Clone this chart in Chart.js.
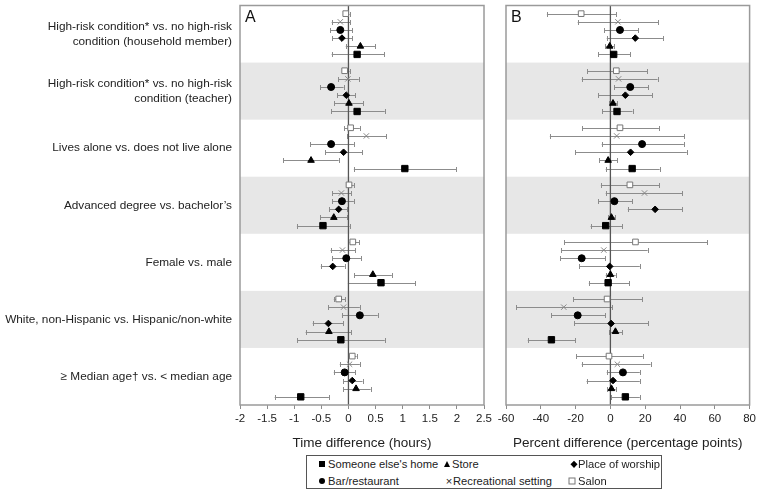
<!DOCTYPE html>
<html><head><meta charset="utf-8">
<script src="https://cdn.jsdelivr.net/npm/chart.js@4.4.0/dist/chart.umd.min.js"></script>
<style>
body{margin:0;background:#fff;width:759px;height:490px;overflow:hidden;position:relative;font-family:"Liberation Sans",Arial,sans-serif;}
#wa{position:absolute;left:0;top:0;width:495px;height:451px;}
#wb{position:absolute;left:490px;top:0;width:269px;height:451px;}
#legend{position:absolute;left:306px;top:455px;width:356px;height:34px;border:1px solid #555;box-sizing:border-box;font-size:11.2px;color:#222;}
.lt{position:absolute;white-space:nowrap;line-height:14px;transform:translateY(-50%);}
.mk{position:absolute;transform:translate(-50%,-50%);}
</style>
</head><body>
<div id="wa"><canvas id="ca"></canvas></div>
<div id="wb"><canvas id="cb"></canvas></div>
<div id="legend"></div>
<script>
// ---------- DATA ----------
const groupLabels = [
  ["High-risk condition* vs. no high-risk", "condition (household member)"],
  ["High-risk condition* vs. no high-risk", "condition (teacher)"],
  ["Lives alone vs. does not live alone"],
  ["Advanced degree vs. bachelor\u2019s"],
  ["Female vs. male"],
  ["White, non-Hispanic vs. Hispanic/non-white"],
  ["\u2265 Median age\u2020 vs. < median age"]
];
// series, top-to-bottom inside each group
const seriesNames = ["Salon", "Recreational setting", "Bar/restaurant", "Place of worship", "Store", "Someone else's home"];

// Panel A: time difference (hours) [estimate, lower, upper] per group
const timeSalon   = [[-0.05,-0.10,0.02],[-0.07,-0.11,0.02],[0.04,-0.08,0.21],[0.01,-0.04,0.10],[0.08,0.02,0.20],[-0.18,-0.27,-0.06],[0.07,0.02,0.15]];
const timeRec     = [[-0.15,-0.31,0.03],[-0.01,-0.19,0.19],[0.33,-0.02,0.70],[-0.13,-0.30,0.05],[-0.11,-0.33,0.13],[-0.09,-0.37,0.21],[0.02,-0.16,0.21]];
const timeBar     = [[-0.15,-0.34,0.07],[-0.32,-0.52,-0.09],[-0.32,-0.70,0.10],[-0.12,-0.30,0.10],[-0.04,-0.30,0.23],[0.21,-0.12,0.54],[-0.07,-0.27,0.13]];
const timeWorship = [[-0.12,-0.30,0.07],[-0.04,-0.21,0.13],[-0.09,-0.43,0.25],[-0.18,-0.35,-0.02],[-0.29,-0.51,-0.07],[-0.37,-0.66,-0.10],[0.07,-0.10,0.26]];
const timeStore   = [[0.22,-0.05,0.49],[0.01,-0.26,0.27],[-0.69,-1.20,-0.18],[-0.27,-0.52,-0.02],[0.45,0.11,0.80],[-0.36,-0.79,0.05],[0.14,-0.10,0.41]];
const timeHome    = [[0.16,-0.31,0.66],[0.16,-0.32,0.67],[1.04,0.10,1.99],[-0.47,-0.95,0.02],[0.60,-0.01,1.23],[-0.14,-0.94,0.67],[-0.88,-1.36,-0.36]];

// Panel B: percent difference (percentage points)
const pctSalon   = [[-16.8,-36.5,3.4],[3.4,-13.3,21.1],[5.5,-16.2,27.9],[11.2,-5.5,28.1],[14.4,-26.5,55.6],[-1.9,-21.5,18.4],[-0.8,-19.6,18.6]];
const pctRec     = [[4.3,-18.8,27.4],[4.7,-16.5,27.1],[3.6,-34.8,42.4],[19.6,-2.7,41.4],[-3.8,-28.3,21.4],[-26.8,-54.2,1.1],[4.0,-16.5,23.1]];
const pctBar     = [[5.5,-3.4,16.0],[11.4,2.3,21.7],[18.2,-5.0,42.2],[2.3,-7.1,12.5],[-16.5,-28.7,-3.1],[-18.8,-33.9,-3.1],[7.2,-2.1,16.9]];
const pctWorship = [[14.3,-2.1,30.2],[8.6,-7.1,24.1],[11.6,-20.2,43.9],[25.7,10.0,41.4],[-0.4,-17.9,16.9],[0.4,-20.9,21.7],[1.5,-13.7,16.9]];
const pctStore   = [[-0.4,-2.9,2.1],[1.5,-0.8,3.8],[-1.3,-6.5,3.8],[0.6,-1.1,2.6],[0.0,-2.7,3.0],[2.9,-0.8,6.8],[0.6,-1.7,3.0]];
const pctHome    = [[1.9,-7.1,11.4],[3.8,-4.8,12.7],[12.5,-2.7,28.3],[-2.7,-11.4,6.8],[-1.3,-12.4,10.8],[-33.9,-47.5,-20.2],[8.6,0.4,16.9]];

const ticksA = [-2,-1.5,-1,-0.5,0,0.5,1,1.5,2,2.5];
const ticksB = [-60,-40,-20,0,20,40,60,80];
const titleA = "Time difference (hours)";
const titleB = "Percent difference (percentage points)";

// ---------- STYLE ----------
const SLOTS = 7;
const styles = [
  {pointStyle:'rect', radius:4, bg:'#fff', border:'#777', bw:1},
  {pointStyle:'crossRot', radius:3.8, bg:'#888', border:'#888', bw:1},
  {pointStyle:'circle', radius:3.5, bg:'#000', border:'#000', bw:1},
  {pointStyle:'rectRot', radius:3.3, bg:'#000', border:'#000', bw:1},
  {pointStyle:'triangle', radius:3.8, bg:'#000', border:'#000', bw:1},
  {pointStyle:'rect', radius:4.5, bg:'#000', border:'#000', bw:1}
];
const FONT = '"Liberation Sans", Arial, sans-serif';

function buildDatasets(seriesArr) {
  return seriesArr.map((arr, s) => ({
    label: seriesNames[s],
    data: arr.map((v, g) => ({x: v[0], lo: v[1], hi: v[2], y: g * SLOTS + s + 1})),
    pointStyle: styles[s].pointStyle,
    pointRadius: styles[s].radius,
    backgroundColor: styles[s].bg,
    borderColor: styles[s].border,
    pointBorderWidth: styles[s].bw,
    showLine: false
  }));
}

const forestPlugin = {
  id: 'forest',
  beforeDatasetsDraw(chart) {
    const {ctx, chartArea: a, scales: {x, y}} = chart;
    ctx.save();
    ctx.fillStyle = '#e7e7e7';
    for (let g = 1; g < groupLabels.length; g += 2) {
      const t = y.getPixelForValue(g * SLOTS), b = y.getPixelForValue((g + 1) * SLOTS);
      ctx.fillRect(a.left, t, a.right - a.left, b - t);
    }
    // error bars
    ctx.strokeStyle = '#8c8c8c';
    ctx.lineWidth = 1;
    chart.data.datasets.forEach(ds => ds.data.forEach(p => {
      const py = Math.round(y.getPixelForValue(p.y)) + 0.5;
      const l = x.getPixelForValue(p.lo), h = x.getPixelForValue(p.hi);
      ctx.beginPath();
      ctx.moveTo(l, py); ctx.lineTo(h, py);
      ctx.moveTo(Math.round(l) + 0.5, py - 2.5); ctx.lineTo(Math.round(l) + 0.5, py + 2.5);
      ctx.moveTo(Math.round(h) + 0.5, py - 2.5); ctx.lineTo(Math.round(h) + 0.5, py + 2.5);
      ctx.stroke();
    }));
    // zero line
    const zx = x.getPixelForValue(0);
    ctx.strokeStyle = '#555';
    ctx.lineWidth = 1.3;
    ctx.beginPath(); ctx.moveTo(zx, a.top); ctx.lineTo(zx, a.bottom); ctx.stroke();
    ctx.restore();
  },
  afterDraw(chart, args, opts) {
    const {ctx, chartArea: a} = chart;
    ctx.save();
    ctx.strokeStyle = '#9a9a9a';
    ctx.lineWidth = 1.5;
    ctx.strokeRect(a.left, a.top, a.right - a.left, a.bottom - a.top);
    ctx.fillStyle = '#111';
    ctx.font = '16px ' + FONT;
    ctx.textBaseline = 'top';
    ctx.fillText(opts.letter, a.left + 5, a.top + 4);
    ctx.restore();
  }
};

function makeChart(id, series, ticks, title, letter, showY, padLeft) {
  return new Chart(document.getElementById(id), {
    type: 'scatter',
    data: {datasets: buildDatasets(series)},
    plugins: [forestPlugin],
    options: {
      responsive: true, maintainAspectRatio: false, animation: false,
      layout: {padding: {top: 2, left: padLeft, right: 8, bottom: 0}},
      plugins: {legend: {display: false}, tooltip: {enabled: false}, forest: {letter}},
      scales: {
        x: {
          type: 'linear', min: ticks[0], max: ticks[ticks.length - 1],
          afterBuildTicks: s => { s.ticks = ticks.map(v => ({value: v})); },
          afterFit: s => { s.height = 46; s.paddingLeft = Math.min(s.paddingLeft, 10); },
          grid: {drawOnChartArea: false, drawTicks: true, tickLength: 4, color: '#8c8c8c'},
          border: {display: false},
          ticks: {color: '#222', font: {family: FONT, size: 11.5}, padding: 3, maxRotation: 0, autoSkip: false,
                  callback: v => String(v)},
          title: {display: true, text: title, color: '#222', font: {family: FONT, size: 13.5}, padding: {top: 0, bottom: 0}}
        },
        y: {
          type: 'linear', min: 0, max: groupLabels.length * SLOTS, reverse: true,
          display: showY,
          afterBuildTicks: s => { s.ticks = groupLabels.map((_, g) => ({value: g * SLOTS + SLOTS / 2})); },
          afterFit: s => { if (showY) { s.width = 240; } s.paddingTop = 0; s.paddingBottom = 0; },
          grid: {display: false, drawTicks: false},
          border: {display: false},
          ticks: {
            color: '#222', padding: 8, autoSkip: false,
            font: {family: FONT, size: 11.8, lineHeight: 1.25},
            callback: (v, i) => groupLabels[i]
          }
        }
      }
    }
  });
}

makeChart('ca', [timeSalon, timeRec, timeBar, timeWorship, timeStore, timeHome], ticksA, titleA, 'A', true, 0);
makeChart('cb', [pctSalon, pctRec, pctBar, pctWorship, pctStore, pctHome], ticksB, titleB, 'B', false, 16);

// ---------- LEGEND ----------
const legendOrder = [
  {s: 5, mx: 15, tx: 21, y: 8},
  {s: 4, mx: 140, tx: 145, y: 8},
  {s: 3, mx: 267, tx: 271, y: 8},
  {s: 2, mx: 15, tx: 21, y: 25},
  {s: 1, mx: 142, tx: 146, y: 25},
  {s: 0, mx: 265, tx: 271, y: 25}
];
const legend = document.getElementById('legend');
function markerHTML(s) {
  switch (s) {
    case 5: return '<div style="width:6px;height:6px;background:#000"></div>';
    case 4: return '<div style="width:0;height:0;border-left:3.5px solid transparent;border-right:3.5px solid transparent;border-bottom:6px solid #000"></div>';
    case 3: return '<div style="width:4.5px;height:4.5px;background:#000;transform:rotate(45deg)"></div>';
    case 2: return '<div style="width:6px;height:6px;background:#000;border-radius:50%"></div>';
    case 1: return '<div style="font:12px ' + FONT + ';color:#888;line-height:10px">\u00d7</div>';
    case 0: return '<div style="width:5px;height:5px;border:1px solid #777;background:#fff"></div>';
  }
}
legendOrder.forEach(it => {
  const m = document.createElement('div');
  m.className = 'mk';
  m.style.left = it.mx + 'px'; m.style.top = it.y + 'px';
  m.innerHTML = markerHTML(it.s);
  legend.appendChild(m);
  const t = document.createElement('div');
  t.className = 'lt';
  t.style.left = it.tx + 'px'; t.style.top = it.y + 'px';
  t.textContent = seriesNames[it.s];
  legend.appendChild(t);
});
</script>
</body></html>
